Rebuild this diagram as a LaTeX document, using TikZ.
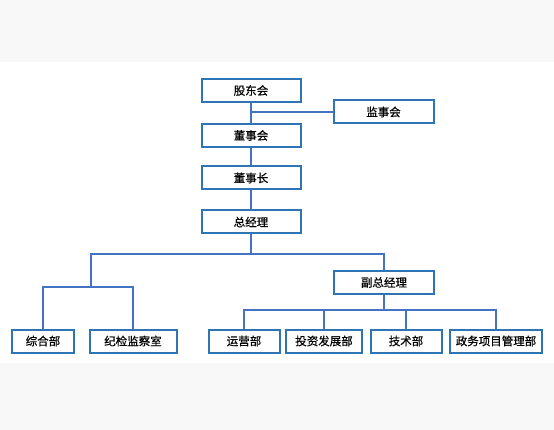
\documentclass[tikz,border=0pt]{standalone}
\usepackage{fontspec}
\newfontfamily\cjk[FakeBold=0.6]{Noto Sans CJK SC}
\definecolor{boxblue}{HTML}{2E75B6}
\definecolor{lineblue}{HTML}{4472C4}
\definecolor{bandgray}{HTML}{F8F8F8}
\begin{document}
\begin{tikzpicture}[x=1pt,y=-1pt,
  orgbox/.style={draw=boxblue,line width=2pt,fill=white,inner sep=0pt,font=\cjk\fontsize{11.5}{13}\selectfont},
  link/.style={draw=lineblue,line width=1.5pt}]
\useasboundingbox (0,0) rectangle (554,430);
\fill[bandgray] (0,0) rectangle (554,62);
\fill[bandgray] (0,363) rectangle (554,430);
% boxes: name, center x, center y, width, height, text
\newcommand{\orgnode}[6]{\node[orgbox,minimum width=#4pt,minimum height=#5pt] (#1) at (#2,#3) {#6};}
\orgnode{gdh}{251}{90.5}{99}{23}{股东会}
\orgnode{jsh}{383.5}{112}{100}{23}{监事会}
\orgnode{dsh}{251}{135.5}{99}{23}{董事会}
\orgnode{dsz}{251}{178}{99}{23}{董事长}
\orgnode{zjl}{251}{222}{99}{23}{总经理}
\orgnode{fzjl}{384}{282.5}{100}{23}{副总经理}
\orgnode{zhb}{43}{341}{62}{23}{综合部}
\orgnode{jjjcs}{133}{341}{87}{23}{纪检监察室}
\orgnode{yyb}{244}{341}{71}{23}{运营部}
\orgnode{tzfzb}{324}{341}{76}{23}{投资发展部}
\orgnode{jsb}{406}{341}{71}{23}{技术部}
\orgnode{zwxm}{496}{341}{92}{23}{政务项目管理部}
% connectors
\draw[link] (gdh.south) -- (dsh.north);
\coordinate (jsjoin) at (gdh.south |- jsh.west);
\draw[link] (jsjoin) -- (jsh.west);
\draw[link] (dsh.south) -- (dsz.north);
\draw[link] (dsz.south) -- (zjl.north);
\coordinate (zjlbus) at (251,254);
\coordinate (leftbus) at (91,287);
\draw[link] (zjl.south) -- (zjlbus);
\draw[link] (zjlbus) -| (fzjl.north);
\draw[link] (zjlbus) -| (leftbus);
\draw[link] (leftbus) -| (zhb.north);
\draw[link] (leftbus) -| (jjjcs.north);
\coordinate (rightbus) at (384,310);
\draw[link] (fzjl.south) -- (rightbus);
\draw[link] (rightbus) -| (yyb.north);
\draw[link] (rightbus) -| (tzfzb.north);
\draw[link] (rightbus) -| (jsb.north);
\draw[link] (rightbus) -| (zwxm.north);
\end{tikzpicture}
\end{document}
